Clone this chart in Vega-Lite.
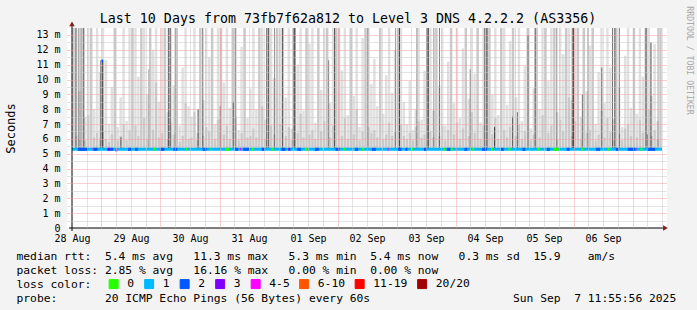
{
  "$schema": "https://vega.github.io/schema/vega-lite/v6.json",
  "width": 600,
  "height": 200,
  "autosize": {"type": "none"},
  "padding": {"left": 67, "top": 28, "right": 30, "bottom": 82},
  "background": "#f3f3f3",
  "config": {
    "view": {"fill": "white", "stroke": null},
    "axis": {"labelFont": "DejaVu Sans Mono", "titleFont": "DejaVu Sans Mono"},
    "legend": {"labelFont": "DejaVu Sans Mono"}
  },
  "title": {
    "text": "Last 10 Days from 73fb7f62a812 to Level 3 DNS 4.2.2.2 (AS3356)",
    "font": "DejaVu Sans Mono", "fontSize": 13.3, "fontWeight": "normal", "color": "black",
    "anchor": "middle", "frame": "group", "dx": -19, "dy": 36, "offset": 5, "baseline": "alphabetic"
  },
  "datasets": {
    "smoke": [
      {"t":0.6,"hi":13.5,"mid":13.5},{"t":1.8,"hi":13.5,"mid":6.2},{"t":3.0,"hi":9.2,"mid":6.0},{"t":4.2,"hi":13.5,"mid":13.5},{"t":5.4,"hi":7.5,"mid":5.9},{"t":6.6,"hi":13.5,"mid":7.6},{"t":7.8,"hi":13.5,"mid":13.5},{"t":9.0,"hi":8.0,"mid":6.1},{"t":10.2,"hi":13.5,"mid":6.4},{"t":11.4,"hi":10.5,"mid":6.0},
      {"t":12.6,"hi":13.5,"mid":6.5},{"t":13.8,"hi":11.3,"mid":6.0},{"t":15.0,"hi":7.0,"mid":5.8},{"t":16.2,"hi":9.5,"mid":6.3},{"t":17.4,"hi":13.5,"mid":13.5},{"t":18.6,"hi":6.8,"mid":5.9},{"t":19.8,"hi":8.8,"mid":6.2},{"t":21.0,"hi":13.5,"mid":7.0},{"t":22.2,"hi":7.2,"mid":5.9},{"t":23.4,"hi":13.5,"mid":6.6},
      {"t":24.6,"hi":13.5,"mid":13.5},{"t":25.8,"hi":13.5,"mid":6.9},{"t":27.0,"hi":10.2,"mid":6.2},{"t":28.2,"hi":13.5,"mid":13.5},{"t":29.4,"hi":13.5,"mid":7.4},{"t":30.6,"hi":9.0,"mid":6.0},{"t":31.8,"hi":13.5,"mid":13.5},{"t":33.0,"hi":12.0,"mid":6.6},{"t":34.2,"hi":13.5,"mid":9.8},{"t":35.4,"hi":8.5,"mid":6.1},
      {"t":36.6,"hi":13.5,"mid":6.4},{"t":37.8,"hi":13.5,"mid":13.5},{"t":39.0,"hi":7.8,"mid":6.0},{"t":40.2,"hi":13.5,"mid":7.1},{"t":41.4,"hi":9.6,"mid":6.3},{"t":42.6,"hi":13.5,"mid":13.5},{"t":43.8,"hi":6.9,"mid":5.8},{"t":45.0,"hi":10.8,"mid":6.2},{"t":46.2,"hi":13.5,"mid":8.4},{"t":47.4,"hi":8.2,"mid":6.0},
      {"t":48.6,"hi":7.5,"mid":6.1},{"t":49.8,"hi":13.5,"mid":7.8},{"t":51.0,"hi":6.4,"mid":5.9},{"t":52.2,"hi":13.5,"mid":13.5},{"t":53.4,"hi":8.6,"mid":6.2},{"t":54.6,"hi":13.5,"mid":6.8},{"t":55.8,"hi":11.5,"mid":6.5},{"t":57.0,"hi":13.5,"mid":13.5},{"t":58.2,"hi":7.0,"mid":6.0},{"t":59.4,"hi":13.5,"mid":7.3},
      {"t":60.6,"hi":13.5,"mid":13.5},{"t":61.8,"hi":9.8,"mid":6.3},{"t":63.0,"hi":13.5,"mid":6.9},{"t":64.2,"hi":8.1,"mid":6.0},{"t":65.4,"hi":13.5,"mid":13.5},{"t":66.6,"hi":13.5,"mid":7.5},{"t":67.8,"hi":6.6,"mid":5.9},{"t":69.0,"hi":12.2,"mid":6.4},{"t":70.2,"hi":13.5,"mid":13.5},{"t":71.4,"hi":7.4,"mid":6.1},
      {"t":72.6,"hi":9.4,"mid":6.2},{"t":73.8,"hi":13.5,"mid":6.7},{"t":75.0,"hi":8.0,"mid":6.1},{"t":76.2,"hi":13.5,"mid":13.5},{"t":77.4,"hi":13.5,"mid":8.2},{"t":78.6,"hi":7.3,"mid":6.0},{"t":79.8,"hi":13.5,"mid":13.5},{"t":81.0,"hi":13.5,"mid":6.9},{"t":82.2,"hi":10.1,"mid":6.3},{"t":83.4,"hi":13.5,"mid":13.5},
      {"t":84.6,"hi":13.5,"mid":7.0},{"t":85.8,"hi":13.5,"mid":13.5},{"t":87.0,"hi":8.8,"mid":6.2},{"t":88.2,"hi":13.5,"mid":6.8},{"t":89.4,"hi":6.7,"mid":5.9},{"t":90.6,"hi":13.5,"mid":13.5},{"t":91.8,"hi":11.0,"mid":6.4},{"t":93.0,"hi":13.5,"mid":7.7},{"t":94.2,"hi":7.9,"mid":6.1},{"t":95.4,"hi":13.5,"mid":13.5},
      {"t":96.6,"hi":12.4,"mid":6.3},{"t":97.8,"hi":13.5,"mid":6.6},{"t":99.0,"hi":7.1,"mid":6.0},{"t":100.2,"hi":13.5,"mid":13.5},{"t":101.4,"hi":9.3,"mid":6.5},{"t":102.6,"hi":13.5,"mid":7.2},{"t":103.8,"hi":13.5,"mid":13.5},{"t":105.0,"hi":8.4,"mid":6.1},{"t":106.2,"hi":13.5,"mid":6.9},{"t":107.4,"hi":13.5,"mid":13.5},
      {"t":108.6,"hi":13.5,"mid":13.5},{"t":109.8,"hi":10.6,"mid":6.2},{"t":111.0,"hi":13.5,"mid":7.4},{"t":112.2,"hi":7.6,"mid":6.0},{"t":113.4,"hi":13.5,"mid":13.5},{"t":114.6,"hi":8.9,"mid":6.3},{"t":115.8,"hi":13.5,"mid":8.0},{"t":117.0,"hi":6.8,"mid":5.9},{"t":118.2,"hi":12.8,"mid":6.5},{"t":119.4,"hi":13.5,"mid":13.5},
      {"t":120.6,"hi":13.5,"mid":6.8},{"t":121.8,"hi":9.7,"mid":6.4},{"t":123.0,"hi":11.4,"mid":6.6},{"t":124.2,"hi":8.2,"mid":6.1},{"t":125.4,"hi":13.5,"mid":13.5},{"t":126.6,"hi":7.7,"mid":6.0},{"t":127.8,"hi":10.3,"mid":6.3},{"t":129.0,"hi":13.5,"mid":7.1},{"t":130.2,"hi":9.1,"mid":6.2},{"t":131.4,"hi":12.0,"mid":6.5},
      {"t":132.6,"hi":13.5,"mid":13.5},{"t":133.8,"hi":13.5,"mid":7.0},{"t":135.0,"hi":8.5,"mid":6.2},{"t":136.2,"hi":7.0,"mid":6.0},{"t":137.4,"hi":9.9,"mid":6.4},{"t":138.6,"hi":6.6,"mid":5.9},{"t":139.8,"hi":8.0,"mid":6.8},{"t":141.0,"hi":13.5,"mid":7.2},{"t":142.2,"hi":7.3,"mid":6.1},{"t":143.4,"hi":10.6,"mid":6.3},
      {"t":144.6,"hi":13.5,"mid":13.5},{"t":145.8,"hi":13.5,"mid":6.5},{"t":147.0,"hi":7.9,"mid":6.1},{"t":148.2,"hi":13.5,"mid":13.5},{"t":149.4,"hi":9.6,"mid":6.2},{"t":150.6,"hi":13.5,"mid":6.9},{"t":151.8,"hi":6.9,"mid":5.9},{"t":153.0,"hi":11.2,"mid":6.6},{"t":154.2,"hi":13.5,"mid":13.5},{"t":155.4,"hi":8.4,"mid":6.3},
      {"t":156.6,"hi":13.5,"mid":7.1},{"t":157.8,"hi":7.4,"mid":6.0},{"t":159.0,"hi":12.1,"mid":6.7},{"t":160.2,"hi":13.5,"mid":13.5},{"t":161.4,"hi":8.7,"mid":6.2},{"t":162.6,"hi":13.5,"mid":7.8},{"t":163.8,"hi":10.4,"mid":6.4},{"t":165.0,"hi":13.5,"mid":13.5},{"t":166.2,"hi":7.1,"mid":6.0},{"t":167.4,"hi":13.5,"mid":6.9},
      {"t":168.6,"hi":13.5,"mid":13.5},{"t":169.8,"hi":13.5,"mid":13.5},{"t":171.0,"hi":9.0,"mid":6.3},{"t":172.2,"hi":13.5,"mid":7.4},{"t":173.4,"hi":7.6,"mid":6.0},{"t":174.6,"hi":13.5,"mid":13.5},{"t":175.8,"hi":13.5,"mid":6.6},{"t":177.0,"hi":8.3,"mid":6.1},{"t":178.2,"hi":12.6,"mid":6.8},{"t":179.4,"hi":13.5,"mid":13.5},
      {"t":180.6,"hi":8.8,"mid":6.2},{"t":181.8,"hi":13.5,"mid":7.0},{"t":183.0,"hi":7.2,"mid":6.0},{"t":184.2,"hi":10.9,"mid":6.5},{"t":185.4,"hi":13.5,"mid":13.5},{"t":186.6,"hi":6.7,"mid":5.9},{"t":187.8,"hi":9.4,"mid":6.3},{"t":189.0,"hi":13.5,"mid":13.5},{"t":190.2,"hi":8.0,"mid":6.1},{"t":191.4,"hi":13.5,"mid":7.6},
      {"t":192.6,"hi":13.5,"mid":13.5},{"t":193.8,"hi":9.9,"mid":6.4},{"t":195.0,"hi":13.5,"mid":6.9},{"t":196.2,"hi":13.5,"mid":13.5},{"t":197.4,"hi":7.8,"mid":6.0},{"t":198.6,"hi":13.5,"mid":7.3},{"t":199.8,"hi":11.7,"mid":6.5},{"t":201.0,"hi":13.5,"mid":13.5},{"t":202.2,"hi":13.5,"mid":8.8},{"t":203.4,"hi":8.6,"mid":6.2},
      {"t":204.6,"hi":13.5,"mid":7.2},{"t":205.8,"hi":13.5,"mid":13.5},{"t":207.0,"hi":7.5,"mid":6.0},{"t":208.2,"hi":13.5,"mid":13.5},{"t":209.4,"hi":9.2,"mid":6.4},{"t":210.6,"hi":12.3,"mid":6.6},{"t":211.8,"hi":13.5,"mid":13.5},{"t":213.0,"hi":7.0,"mid":5.9},{"t":214.2,"hi":10.5,"mid":6.3},{"t":215.4,"hi":13.5,"mid":7.9},
      {"t":216.6,"hi":8.4,"mid":6.1},{"t":217.8,"hi":13.5,"mid":7.4},{"t":219.0,"hi":10.8,"mid":6.5},{"t":220.2,"hi":7.3,"mid":6.0},{"t":221.4,"hi":13.5,"mid":13.5},{"t":222.6,"hi":9.5,"mid":6.3},{"t":223.8,"hi":6.8,"mid":5.9},{"t":225.0,"hi":11.6,"mid":6.7},{"t":226.2,"hi":13.5,"mid":7.0},{"t":227.4,"hi":8.1,"mid":6.2},
      {"t":228.6,"hi":13.5,"mid":13.5},{"t":229.8,"hi":7.7,"mid":6.1},{"t":231.0,"hi":13.5,"mid":7.3},{"t":232.2,"hi":10.2,"mid":6.4},{"t":233.4,"hi":13.5,"mid":13.5},{"t":234.6,"hi":13.5,"mid":8.0},{"t":235.8,"hi":8.9,"mid":6.2},{"t":237.0,"hi":12.4,"mid":6.6},{"t":238.2,"hi":7.2,"mid":6.0},{"t":239.4,"hi":13.5,"mid":13.5}
    ],
    "spikes": [
      {"t":1.6,"top":13.5,"n":7},{"t":2.8,"top":13.5,"n":6},{"t":3.6,"top":13.5,"n":4},{"t":4.8,"top":13.5,"n":8},
      {"t":11.8,"top":11.3,"n":10},{"t":12.5,"top":11.3,"n":10},{"t":19.9,"top":6.1,"n":7},{"t":31.2,"top":10.7,"n":3},
      {"t":39.2,"top":13.5,"n":8},{"t":39.9,"top":13.5,"n":9},{"t":42.0,"top":13.5,"n":6},{"t":51.3,"top":8.0,"n":9},
      {"t":53.2,"top":13.5,"n":7},{"t":60.3,"top":8.2,"n":6},{"t":65.6,"top":8.5,"n":6},{"t":66.4,"top":13.5,"n":5},
      {"t":79.2,"top":13.5,"n":7},{"t":80.0,"top":13.5,"n":7},{"t":82.4,"top":13.5,"n":5},{"t":85.6,"top":13.5,"n":7},
      {"t":90.0,"top":13.5,"n":8},{"t":90.6,"top":13.5,"n":9},{"t":104.4,"top":11.3,"n":5},{"t":106.8,"top":13.5,"n":8},
      {"t":120.3,"top":13.5,"n":7},{"t":131.6,"top":13.5,"n":4},{"t":133.2,"top":13.5,"n":9},{"t":140.3,"top":13.5,"n":5},
      {"t":144.4,"top":13.5,"n":8},{"t":145.0,"top":13.5,"n":7},{"t":147.2,"top":13.5,"n":5},{"t":149.5,"top":13.5,"n":6},
      {"t":162.0,"top":10.7,"n":7},{"t":167.9,"top":13.5,"n":7},{"t":168.8,"top":13.5,"n":9},{"t":171.9,"top":6.8,"n":9},
      {"t":179.2,"top":7.5,"n":6},{"t":181.2,"top":7.8,"n":6},{"t":185.5,"top":13.0,"n":5},{"t":188.4,"top":13.5,"n":8},
      {"t":197.2,"top":13.5,"n":5},{"t":203.5,"top":13.5,"n":7},{"t":204.0,"top":13.5,"n":8},{"t":207.6,"top":9.0,"n":6},
      {"t":209.9,"top":13.5,"n":5},{"t":215.5,"top":10.8,"n":6},{"t":219.9,"top":13.5,"n":7},{"t":220.8,"top":13.5,"n":8},
      {"t":222.7,"top":13.5,"n":5},{"t":233.5,"top":13.5,"n":7},{"t":234.1,"top":6.3,"n":8},{"t":235.5,"top":12.5,"n":9},
      {"t":238.4,"top":13.5,"n":4}
    ],
    "median": [
      {"t0":0,"t1":240,"ms":5.3,"loss":"1"},
      {"t0":2.4,"t1":6.4,"ms":5.3,"loss":"2"},{"t0":8.4,"t1":8.8,"ms":5.3,"loss":"4-5"},{"t0":8.8,"t1":10.4,"ms":5.3,"loss":"2"},
      {"t0":11.8,"t1":12.6,"ms":11.25,"loss":"2"},{"t0":14.4,"t1":15.6,"ms":5.3,"loss":"3"},{"t0":15.6,"t1":16.8,"ms":5.3,"loss":"2"},
      {"t0":17.6,"t1":18.4,"ms":5.25,"loss":"4-5"},{"t0":22.8,"t1":24.4,"ms":5.3,"loss":"2"},{"t0":25.6,"t1":26.8,"ms":5.3,"loss":"2"},
      {"t0":33.2,"t1":34.0,"ms":5.3,"loss":"0"},{"t0":36.0,"t1":37.6,"ms":5.3,"loss":"2"},{"t0":41.2,"t1":42.8,"ms":5.3,"loss":"2"},
      {"t0":46.4,"t1":46.8,"ms":5.3,"loss":"0"},{"t0":53.2,"t1":54.8,"ms":5.3,"loss":"2"},{"t0":56.4,"t1":56.8,"ms":5.3,"loss":"0"},
      {"t0":62.4,"t1":64.0,"ms":5.3,"loss":"0"},{"t0":66.4,"t1":67.6,"ms":5.3,"loss":"2"},{"t0":68.4,"t1":68.8,"ms":5.3,"loss":"4-5"},
      {"t0":69.6,"t1":72.0,"ms":5.3,"loss":"2"},{"t0":73.2,"t1":74.0,"ms":5.3,"loss":"0"},{"t0":77.2,"t1":78.4,"ms":5.3,"loss":"2"},
      {"t0":81.2,"t1":82.0,"ms":5.3,"loss":"0"},{"t0":85.2,"t1":86.8,"ms":5.3,"loss":"2"},{"t0":88.0,"t1":88.8,"ms":5.3,"loss":"3"},
      {"t0":91.6,"t1":93.2,"ms":5.3,"loss":"2"},{"t0":94.8,"t1":95.6,"ms":5.3,"loss":"0"},{"t0":98.8,"t1":100.4,"ms":5.3,"loss":"2"},
      {"t0":102.0,"t1":102.4,"ms":5.3,"loss":"0"},{"t0":107.2,"t1":108.8,"ms":5.3,"loss":"2"},{"t0":110.4,"t1":111.2,"ms":5.3,"loss":"0"},
      {"t0":115.2,"t1":116.4,"ms":5.3,"loss":"2"},{"t0":118.0,"t1":118.8,"ms":5.3,"loss":"0"},{"t0":122.0,"t1":123.6,"ms":5.3,"loss":"2"},
      {"t0":128.4,"t1":128.8,"ms":5.3,"loss":"4-5"},{"t0":132.4,"t1":134.0,"ms":5.3,"loss":"2"},{"t0":135.6,"t1":136.4,"ms":5.3,"loss":"2"},
      {"t0":138.0,"t1":138.8,"ms":5.3,"loss":"0"},{"t0":143.2,"t1":144.4,"ms":5.3,"loss":"2"},{"t0":151.2,"t1":152.0,"ms":5.3,"loss":"0"},
      {"t0":152.4,"t1":154.0,"ms":5.3,"loss":"2"},{"t0":154.0,"t1":154.8,"ms":5.3,"loss":"0"},{"t0":159.6,"t1":160.8,"ms":5.3,"loss":"2"},
      {"t0":162.8,"t1":163.6,"ms":5.3,"loss":"0"},{"t0":166.8,"t1":168.8,"ms":5.3,"loss":"2"},{"t0":170.4,"t1":171.2,"ms":5.3,"loss":"0"},
      {"t0":174.4,"t1":175.6,"ms":5.3,"loss":"2"},{"t0":177.6,"t1":178.4,"ms":5.3,"loss":"0"},{"t0":183.2,"t1":184.4,"ms":5.3,"loss":"2"},
      {"t0":189.2,"t1":190.4,"ms":5.3,"loss":"0"},{"t0":193.2,"t1":194.4,"ms":5.3,"loss":"2"},{"t0":196.0,"t1":198.0,"ms":5.3,"loss":"0"},
      {"t0":201.2,"t1":202.4,"ms":5.3,"loss":"2"},{"t0":207.2,"t1":208.0,"ms":5.3,"loss":"0"},{"t0":213.2,"t1":214.8,"ms":5.3,"loss":"2"},
      {"t0":218.0,"t1":218.8,"ms":5.3,"loss":"0"},{"t0":221.2,"t1":222.4,"ms":5.3,"loss":"2"},{"t0":226.0,"t1":229.2,"ms":5.3,"loss":"2"},
      {"t0":229.2,"t1":229.6,"ms":5.3,"loss":"4-5"},{"t0":231.2,"t1":232.0,"ms":5.3,"loss":"0"},{"t0":234.0,"t1":237.2,"ms":5.3,"loss":"2"}
    ]
  },
  "layer": [
    {
      "data": {"name": "smoke"},
      "mark": {"type": "bar", "width": 2.5, "color": "black", "opacity": 0.12, "clip": true},
      "encoding": {
        "x": {"field": "t", "type": "quantitative", "scale": {"domain": [0, 240], "nice": false, "zero": false},
          "axis": {"orient": "bottom", "values": [6,18,24,30,42,48,54,66,72,78,90,96,102,114,120,126,138,144,150,162,168,174,186,192,198,210,216,222,234,240],
            "grid": true, "gridColor": "#c8c8c8", "gridDash": [1, 1], "gridOpacity": 1, "labels": false, "ticks": false, "domain": false, "title": null, "zindex": 1}},
        "y": {"field": "hi", "type": "quantitative", "scale": {"domain": [0, 13.47], "nice": false, "zero": false},
          "axis": {"orient": "left", "values": [0.5,1.5,2.5,3.5,4.5,5.5,6.5,7.5,8.5,9.5,10.5,11.5,12.5],
            "grid": true, "gridColor": "#c8c8c8", "gridDash": [1, 1], "gridOpacity": 1, "labels": false, "ticks": false, "domain": false, "title": null, "zindex": 1}},
        "y2": {"datum": 5.35}
      }
    },
    {
      "data": {"name": "smoke"},
      "mark": {"type": "bar", "width": 2.5, "color": "black", "opacity": 0.1, "clip": true},
      "encoding": {
        "x": {"field": "t", "type": "quantitative",
          "axis": {"orient": "bottom", "values": [12,36,60,84,108,132,156,180,204,228],
            "grid": true, "gridColor": "#f4a0a0", "gridDash": [1, 1], "gridOpacity": 1, "labels": false, "ticks": false, "domain": false, "title": null, "zindex": 1}},
        "y": {"field": "mid", "type": "quantitative",
          "axis": {"orient": "left", "values": [1,2,3,4,5,6,7,8,9,10,11,12,13],
            "grid": true, "gridColor": "#f4a0a0", "gridDash": [1, 1], "gridOpacity": 1, "labels": false, "ticks": false, "domain": false, "title": null, "zindex": 1}},
        "y2": {"datum": 5.35}
      }
    },
    {
      "data": {"name": "spikes"},
      "mark": {"type": "rule", "color": "black", "strokeWidth": 1, "clip": true},
      "encoding": {
        "x": {"field": "t", "type": "quantitative", "axis": null},
        "y": {"field": "top", "type": "quantitative",
          "axis": {"orient": "right", "labels": false, "ticks": false, "domain": false, "grid": false,
            "title": "RRDTOOL / TOBI OETIKER", "titleColor": "#a8a8a8", "titleFontSize": 8.2, "titleFontWeight": "normal",
            "titleAngle": 90, "titleX": 21, "titleY": 32, "titleAlign": "center", "titleBaseline": "middle"}},
        "y2": {"datum": 5.35},
        "opacity": {"field": "n", "type": "quantitative", "scale": {"domain": [1, 10], "range": [0.15, 0.8]}, "legend": null}
      }
    },
    {
      "data": {"name": "median"},
      "mark": {"type": "rule", "strokeWidth": 3, "strokeCap": "butt"},
      "encoding": {
        "x": {"field": "t0", "type": "quantitative",
          "axis": {"orient": "bottom", "values": [0,24,48,72,96,120,144,168,192,216],
            "labelExpr": "['28 Aug','29 Aug','30 Aug','31 Aug','01 Sep','02 Sep','03 Sep','04 Sep','05 Sep','06 Sep'][round(datum.value/24)]",
            "labelFontSize": 10, "labelColor": "black", "labelPadding": 5, "labelFlush": false, "labelOverlap": false, "labelBound": false,
            "ticks": false, "domain": false, "grid": false,
            "title": [
              "median\u00a0rtt:\u00a0\u00a05.4\u00a0ms\u00a0avg\u00a0\u00a0\u00a011.3\u00a0ms\u00a0max\u00a0\u00a0\u00a05.3\u00a0ms\u00a0min\u00a0\u00a05.4\u00a0ms\u00a0now\u00a0\u00a0\u00a00.3\u00a0ms\u00a0sd\u00a0\u00a015.9\u00a0\u00a0\u00a0\u00a0am/s",
              "packet\u00a0loss:\u00a02.85\u00a0%\u00a0avg\u00a0\u00a0\u00a016.16\u00a0%\u00a0max\u00a0\u00a0\u00a00.00\u00a0%\u00a0min\u00a0\u00a00.00\u00a0%\u00a0now",
              "loss\u00a0color:",
              "probe:\u00a0\u00a0\u00a0\u00a0\u00a0\u00a0\u00a020\u00a0ICMP\u00a0Echo\u00a0Pings\u00a0(56\u00a0Bytes)\u00a0every\u00a060s\u00a0\u00a0\u00a0\u00a0\u00a0\u00a0\u00a0\u00a0\u00a0\u00a0\u00a0\u00a0\u00a0\u00a0\u00a0\u00a0\u00a0\u00a0\u00a0\u00a0\u00a0Sun\u00a0Sep\u00a0\u00a07\u00a011:55:56\u00a02025"
            ],
            "titleFontSize": 11.3, "titleFontWeight": "normal", "titleColor": "black", "titleLimit": 2000,
            "titleX": -51, "titleY": 31, "titleAlign": "left", "titleAnchor": "start", "titleBaseline": "alphabetic", "titleLineHeight": 14}},
        "x2": {"field": "t1"},
        "y": {"field": "ms", "type": "quantitative",
          "axis": {"orient": "left", "values": [0,1,2,3,4,5,6,7,8,9,10,11,12,13],
            "labelExpr": "datum.value == 0 ? '0\u00a0\u00a0' : datum.value + '\u00a0m'",
            "labelFontSize": 10, "labelColor": "black", "labelPadding": 7, "labelBaseline": "middle",
            "ticks": false, "domain": false, "grid": false,
            "title": "Seconds", "titleFontSize": 12, "titleFontWeight": "normal", "titleColor": "black",
            "titleX": -57, "titleY": 100, "titleAngle": 270, "titleAlign": "center", "titleBaseline": "middle"}},
        "color": {"field": "loss", "type": "nominal",
          "scale": {"domain": ["0","1","2","3","4-5","6-10","11-19","20/20"],
                    "range": ["#26ff00","#00b8ff","#0059ff","#7e00ff","#ff00ff","#ff5500","#ff0000","#a00000"]},
          "legend": {"orient": "none", "legendX": 41, "legendY": 250, "direction": "horizontal", "title": null, "padding": 0,
            "symbolType": "square", "symbolSize": 81, "symbolStrokeWidth": 1, "labelFontSize": 11.3, "labelColor": "black",
            "labelOffset": 8, "columnPadding": 7.5,
            "encode": {"symbols": {"update": {"fill": {"scale": "color", "field": "value"}, "stroke": {"value": "black"}, "strokeWidth": {"value": 1}, "opacity": {"value": 1}}}}}}
      }
    },
    {
      "data": {"values": [{}]},
      "mark": {"type": "rule", "color": "black", "strokeWidth": 1},
      "encoding": {
        "x": {"datum": 0, "axis": null},
        "y": {"datum": -0.2, "axis": null},
        "y2": {"datum": 13.6}
      }
    },
    {
      "data": {"values": [{}]},
      "mark": {"type": "rule", "color": "black", "strokeWidth": 1},
      "encoding": {
        "x": {"datum": -1.2, "axis": null},
        "x2": {"datum": 240.8},
        "y": {"datum": 0, "axis": null}
      }
    },
    {
      "data": {"values": [{}]},
      "mark": {"type": "point", "shape": "triangle-up", "filled": true, "color": "#8b1a1a", "size": 30, "opacity": 1},
      "encoding": {
        "x": {"datum": 0, "axis": null},
        "y": {"datum": 13.75, "axis": null}
      }
    },
    {
      "data": {"values": [{}]},
      "mark": {"type": "point", "shape": "triangle-right", "filled": true, "color": "#8b1a1a", "size": 30, "opacity": 1},
      "encoding": {
        "x": {"datum": 241.4, "axis": null},
        "y": {"datum": 0, "axis": null}
      }
    }
  ],
  "resolve": {"axis": {"x": "independent", "y": "independent"}}
}
